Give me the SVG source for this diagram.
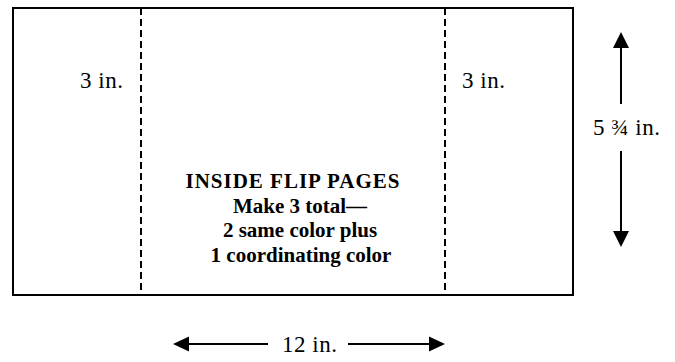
<svg xmlns="http://www.w3.org/2000/svg" width="675" height="362" viewBox="0 0 675 362">
<defs>
<style>
.frame{fill:none;stroke:#000;stroke-width:2}
.fold{stroke:#000;stroke-width:2;stroke-dasharray:7 4;fill:none}
.dim{stroke:#000;stroke-width:2;fill:none}
.head{fill:#000}
.lbl{font-size:23px;fill:#000}
.title{font-size:21px;font-weight:bold;fill:#000;text-anchor:middle}
</style>
</defs>
<rect width="675" height="362" fill="#fff"/>
<g id="sheet">
<rect class="frame" x="13" y="8" width="560" height="287"/>
</g>
<g id="folds">
<line class="fold" x1="141" y1="8" x2="141" y2="295"/>
<line class="fold" x1="445" y1="8" x2="445" y2="295"/>
</g>
<g font-family="'Liberation Serif', 'Times New Roman', serif">
<g id="left-panel">
<text class="lbl" x="80" y="88" letter-spacing="0.5">3 in.</text>
</g>
<g id="right-panel">
<text class="lbl" x="462" y="88" letter-spacing="0.5">3 in.</text>
</g>
<g id="center-panel">
<text class="title" x="293" y="188" font-size="22" letter-spacing="1">INSIDE FLIP PAGES</text>
<text class="title" x="300" y="213">Make 3 total—</text>
<text class="title" x="300" y="237">2 same color plus</text>
<text class="title" x="301" y="262">1 coordinating color</text>
</g>
<g id="dimension-labels">
<text class="lbl" x="593" y="135" letter-spacing="0.5">5 ¾ in.</text>
<text class="lbl" x="282" y="352" letter-spacing="0.5">12 in.</text>
</g>
</g>
<g id="connectors">
<line class="dim" x1="621" y1="46" x2="621" y2="104"/>
<polygon class="head" points="621,32 613,48 629,48"/>
<line class="dim" x1="621" y1="151" x2="621" y2="233"/>
<polygon class="head" points="621,247 613,231 629,231"/>
<line class="dim" x1="187" y1="344" x2="268" y2="344"/>
<polygon class="head" points="173,344 189,336.5 189,351.5"/>
<line class="dim" x1="348" y1="344" x2="431" y2="344"/>
<polygon class="head" points="445,344 429,336.5 429,351.5"/>
</g>
</svg>
